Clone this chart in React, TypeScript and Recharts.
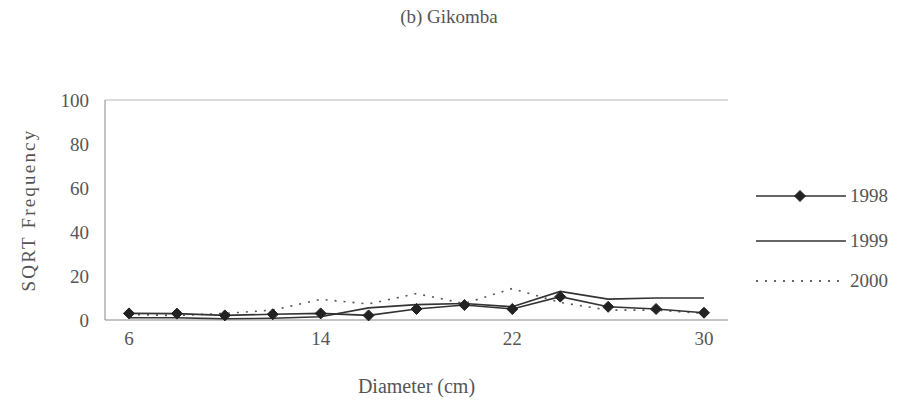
import { LineChart, Line, XAxis, YAxis, ReferenceLine } from 'recharts';

const diameters = [6, 8, 10, 12, 14, 16, 18, 20, 22, 24, 26, 28, 30];
const y1998 = [3, 2.9, 2.1, 2.6, 3, 2.1, 5, 6.8, 5, 10.6, 6, 5, 3.3];
const y1999 = [1, 1, 0.5, 0.8, 1.5, 5.5, 7, 7.5, 6, 13, 9.5, 10, 10];
const y2000 = [2.5, 2, 3, 4.5, 9.4, 7.3, 12, 7.5, 14.3, 8, 4.5, 4.5, 3];
const xLabels = [6, 14, 22, 30];
const yTicks = [0, 20, 40, 60, 80, 100];

const data = diameters.map((d, i) => ({
  d,
  y1998: y1998[i],
  y1999: y1999[i],
  y2000: y2000[i],
}));

const font = "'Liberation Serif', 'Times New Roman', Times, serif";
const ink = '#555';

const Diamond = (props: any) => {
  const { cx, cy } = props;
  if (cx == null || cy == null) return null;
  const r = 5.5;
  return (
    <path
      d={`M${cx},${cy - r}L${cx + r},${cy}L${cx},${cy + r}L${cx - r},${cy}Z`}
      fill="#222"
      stroke="#222"
    />
  );
};

// legend sits to the right of the plot
function LegendBox() {
  const rows = [
    { label: '1998', dash: undefined, marker: true, y: 16 },
    { label: '1999', dash: undefined, marker: false, y: 61 },
    { label: '2000', dash: '2 7', marker: false, y: 101 },
  ];
  return (
    <svg width={150} height={120} style={{ position: 'absolute', left: 748, top: 180 }}>
      {rows.map((r) => (
        <g key={r.label}>
          <line x1={8} x2={98} y1={r.y} y2={r.y} stroke="#333" strokeWidth={1.6} strokeDasharray={r.dash} />
          {r.marker && <Diamond cx={52} cy={r.y} />}
          <text x={102} y={r.y + 6} style={{ fontFamily: font }} fontSize={19} fill={ink}>
            {r.label}
          </text>
        </g>
      ))}
    </svg>
  );
}

export default function App() {
  return (
    <div
      style={{
        position: 'absolute',
        left: 0,
        top: 0,
        width: 898,
        height: 412,
        background: '#fff',
        fontFamily: font,
      }}
    >
      <div
        style={{
          position: 'absolute',
          top: 6,
          width: 898,
          textAlign: 'center',
          fontSize: 19,
          color: ink,
        }}
      >
        (b) Gikomba
      </div>
      <LineChart
        width={898}
        height={412}
        data={data}
        margin={{ top: 100, right: 170, left: 35, bottom: 62 }}
        style={{ fontFamily: font }}
      >
        <XAxis
          dataKey="d"
          type="category"
          interval={0}
          height={30}
          padding={{ left: 24, right: 24 }}
          tickFormatter={(v: number) => (xLabels.includes(v) ? String(v) : '')}
          tickLine={false}
          axisLine={{ stroke: '#888' }}
          tick={{ fontSize: 19, fill: ink, style: { fontFamily: font } }}
          tickMargin={6}
          label={{
            value: 'Diameter (cm)',
            position: 'insideBottom',
            offset: -43,
            fontSize: 20,
            fill: ink,
            style: { fontFamily: font },
          }}
        />
        <YAxis
          domain={[0, 100]}
          ticks={yTicks}
          width={70}
          tickLine={false}
          axisLine={{ stroke: '#888' }}
          tick={{ fontSize: 19, fill: ink, style: { fontFamily: font } }}
          tickMargin={10}
          label={{
            value: 'SQRT Frequency',
            angle: -90,
            position: 'insideLeft',
            offset: -7,
            fontSize: 19,
            fill: ink,
            style: { textAnchor: 'middle', letterSpacing: 2.2, fontFamily: font },
          }}
        />
        <ReferenceLine y={100} stroke="#bbb" />
        <Line dataKey="y1999" stroke="#333" strokeWidth={1.6} dot={false} isAnimationActive={false} />
        <Line dataKey="y2000" stroke="#555" strokeWidth={1.6} strokeDasharray="2 7" dot={false} isAnimationActive={false} />
        <Line dataKey="y1998" stroke="#333" strokeWidth={1.6} dot={<Diamond />} isAnimationActive={false} />
      </LineChart>
      <LegendBox />
    </div>
  );
}
